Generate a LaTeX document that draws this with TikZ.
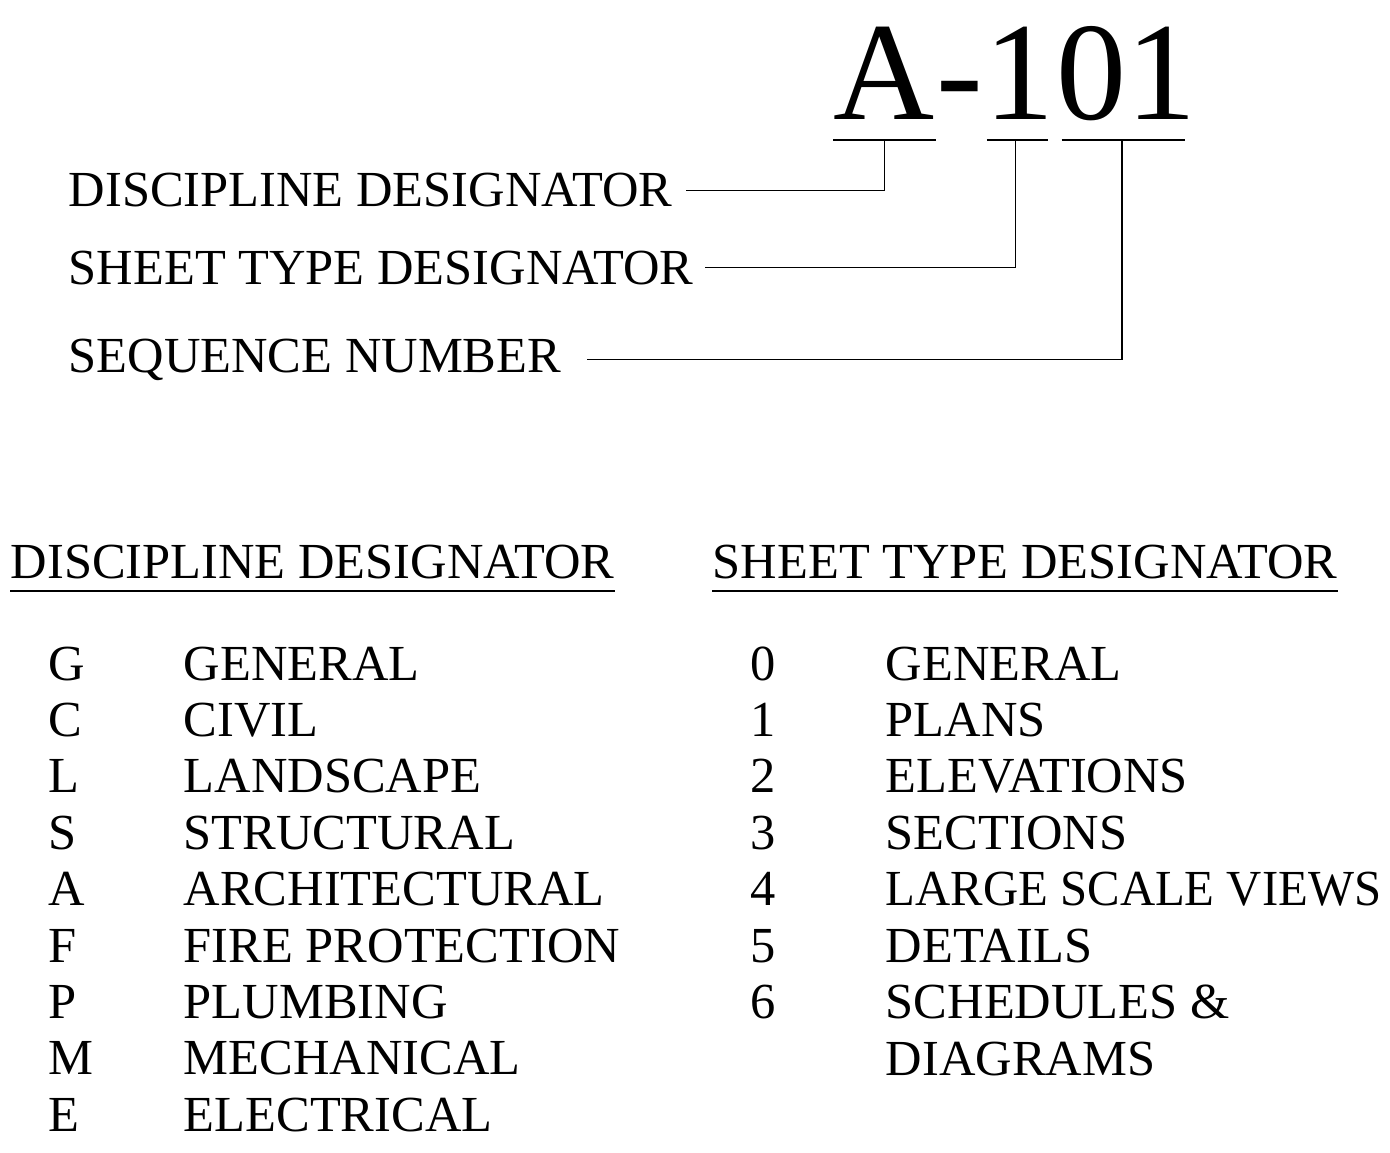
\documentclass[tikz,border=0pt]{standalone}
\usepackage{fontspec}
\setmainfont{Liberation Serif}
\usepackage{graphicx}
\usetikzlibrary{positioning}

\begin{document}
\begin{tikzpicture}[x=1pt, y=-1pt, line width=1.6pt,
  lbl/.style={anchor=base west, inner sep=0pt, font=\fontsize{50.5}{56}\selectfont},
  big/.style={anchor=base west, inner sep=0pt, font=\fontsize{140}{150}\selectfont},
  hd/.style={lbl},
  ul/.style={line width=2.4pt}]
  \useasboundingbox (0,0) rectangle (1390,1153);
  % sheet number
  \node[big] (dA) at (833,120) {A};
  \node[big] (dash) at (dA.base east) {-};
  \node[big] (ty) at (dash.base east) {1};
  \node[big] (sq) at (ty.base east) {01};
  \draw ([yshift=-20pt]dA.base west) -- coordinate (u1) ([yshift=-20pt]dA.base east);
  \draw[shorten <=3pt, shorten >=8pt] ([yshift=-20pt]ty.base west) -- coordinate[pos=0.44] (u2) ([yshift=-20pt]ty.base east);
  \draw[shorten <=6pt, shorten >=12pt] ([yshift=-20pt]sq.base west) -- coordinate[pos=0.47] (u3) ([yshift=-20pt]sq.base east);
  % callouts
  \node[lbl] (l1) at (68,207) {DISCIPLINE DESIGNATOR};
  \node[lbl] (l2) at (68,284) {SHEET TYPE DESIGNATOR};
  \node[lbl] (l3) at (68,372) {SEQUENCE NUMBER};
  \draw ([xshift=13pt]l1.east) -| (u1);
  \draw ([xshift=11pt]l2.east) -| (u2);
  \draw ([xshift=25pt]l3.east) -| (u3);
  % tables
  \node[hd] (hd1) at (10,578) {DISCIPLINE DESIGNATOR};
  \node[hd] (hd2) at (712,578) {SHEET TYPE DESIGNATOR};
  \draw[ul] ([yshift=-13pt]hd1.base west) -- ([yshift=-13pt]hd1.base east);
  \draw[ul] ([yshift=-13pt]hd2.base west) -- ([yshift=-13pt]hd2.base east);
  \foreach \k/\t [count=\i] in {G/GENERAL, C/CIVIL, L/LANDSCAPE, S/STRUCTURAL, A/ARCHITECTURAL,
      F/FIRE PROTECTION, P/PLUMBING, M/MECHANICAL, E/ELECTRICAL} {
    \node[lbl] (dk\i) at (48,{680+56.4*(\i-1)}) {\k};
    \node[lbl] (dn\i) at (183,{680+56.4*(\i-1)}) {\t};
  }
  \foreach \k/\t [count=\i] in {0/GENERAL, 1/PLANS, 2/ELEVATIONS, 3/SECTIONS, 4/{\scalebox{0.965}[1]{LARGE SCALE VIEWS}},
      5/DETAILS, 6/SCHEDULES \&} {
    \node[lbl] (tk\i) at (750,{680+56.4*(\i-1)}) {\k};
    \node[lbl] (tn\i) at (885,{680+56.4*(\i-1)}) {\t};
  }
  \node[lbl] (tn8) at (885,1075) {DIAGRAMS};
\end{tikzpicture}
\end{document}
